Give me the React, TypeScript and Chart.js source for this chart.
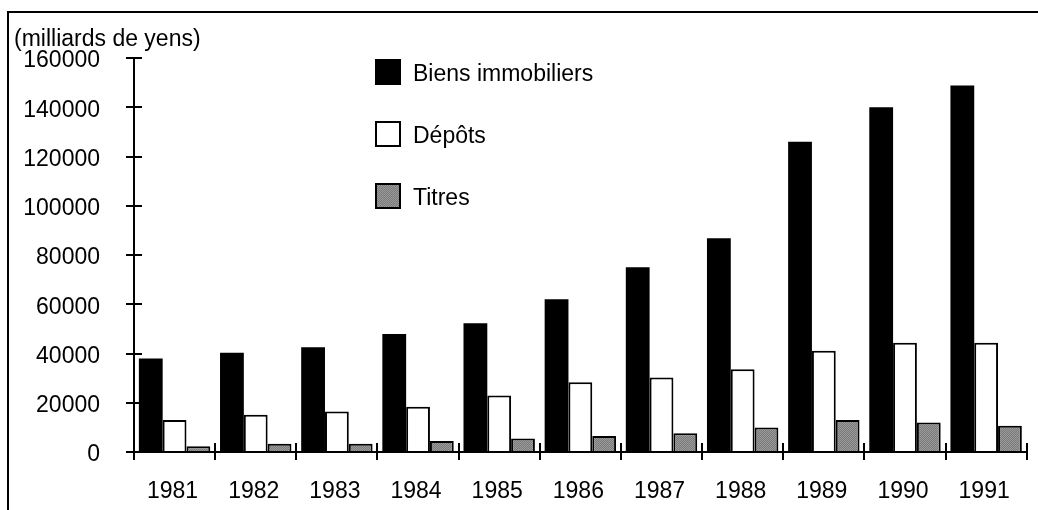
import { useEffect, useRef } from 'react';
import { Chart, registerables } from 'chart.js';

Chart.register(...registerables);

const years = ['1981', '1982', '1983', '1984', '1985', '1986', '1987', '1988', '1989', '1990', '1991'];
const biensImmobiliers = [38000, 40300, 42500, 47900, 52300, 62000, 75000, 86800, 126000, 140000, 148800];
const depots = [13000, 15100, 16400, 18400, 22900, 28300, 30300, 33600, 41100, 44400, 44400];
const titres = [2300, 3400, 3400, 4500, 5500, 6500, 7600, 9900, 13000, 12000, 10700];
const yTickValues = [0, 20000, 40000, 60000, 80000, 100000, 120000, 140000, 160000];
const seriesLabels = ['Biens immobiliers', 'Dépôts', 'Titres'];
const unitLabel = '(milliards de yens)';

const FONT = '"Liberation Sans", Arial, Helvetica, sans-serif';
const FONT_SIZE = 23;

function makeGrayPattern(): CanvasPattern | string {
  const c = document.createElement('canvas');
  c.width = 2;
  c.height = 2;
  const g = c.getContext('2d');
  if (!g) return '#888888';
  g.fillStyle = '#7a7a7a';
  g.fillRect(0, 0, 2, 2);
  g.fillStyle = '#9a9a9a';
  g.fillRect(0, 0, 1, 1);
  g.fillRect(1, 1, 1, 1);
  const p = g.createPattern(c, 'repeat');
  return p || '#888888';
}

const customPlugin = {
  id: 'customDraw',
  beforeDraw(chart: any) {
    const ctx = chart.ctx;
    ctx.save();
    ctx.fillStyle = '#ffffff';
    ctx.fillRect(0, 0, chart.width, chart.height);
    ctx.restore();
  },
  afterDatasetsDraw(chart: any) {
    const { ctx, chartArea: a, scales } = chart;
    const x = scales.x;
    const y = scales.y;
    ctx.save();
    ctx.strokeStyle = '#000000';
    ctx.lineWidth = 2;
    ctx.lineCap = 'butt';

    // outer frame (left & top visible)
    ctx.beginPath();
    ctx.moveTo(8, chart.height);
    ctx.lineTo(8, 12);
    ctx.lineTo(chart.width, 12);
    ctx.stroke();

    // axes
    ctx.beginPath();
    ctx.moveTo(a.left, a.top);
    ctx.lineTo(a.left, a.bottom);
    ctx.moveTo(a.left - 1, a.bottom);
    ctx.lineTo(a.right, a.bottom);
    ctx.stroke();

    // y crossing ticks
    ctx.beginPath();
    y.ticks.forEach((t: any) => {
      const py = Math.round(y.getPixelForValue(t.value));
      ctx.moveTo(a.left - 8, py);
      ctx.lineTo(a.left + 8, py);
    });
    ctx.stroke();

    // x crossing ticks at category boundaries
    const n = x.ticks.length;
    const w = (a.right - a.left) / n;
    ctx.beginPath();
    for (let i = 0; i <= n; i++) {
      const px = Math.round(a.left + i * w);
      ctx.moveTo(px, a.bottom - 9);
      ctx.lineTo(px, a.bottom + 8);
    }
    ctx.stroke();

    // unit label
    ctx.fillStyle = '#000000';
    ctx.font = `${FONT_SIZE}px ${FONT}`;
    ctx.textAlign = 'left';
    ctx.textBaseline = 'alphabetic';
    ctx.fillText(unitLabel, 14, 46);

    // legend
    chart.data.datasets.forEach((ds: any, i: number) => {
      const sx = 375;
      const sy = 59 + i * 62;
      const size = 26;
      ctx.fillStyle = ds.backgroundColor;
      ctx.fillRect(sx, sy, size, size);
      ctx.lineWidth = 2;
      ctx.strokeStyle = '#000000';
      ctx.strokeRect(sx + 1, sy + 1, size - 2, size - 2);
      ctx.fillStyle = '#000000';
      ctx.textBaseline = 'middle';
      ctx.fillText(ds.label, 413, sy + size / 2 + 3);
    });
    ctx.restore();
  },
};

export default function App() {
  const canvasRef = useRef<HTMLCanvasElement | null>(null);

  useEffect(() => {
    const canvas = canvasRef.current;
    if (!canvas) return;
    const gray = makeGrayPattern();
    const chart = new Chart(canvas, {
      type: 'bar',
      data: {
        labels: years,
        datasets: [
          {
            label: seriesLabels[0],
            data: biensImmobiliers,
            backgroundColor: '#000000',
            borderColor: '#000000',
            borderWidth: 0,
          },
          {
            label: seriesLabels[1],
            data: depots,
            backgroundColor: '#ffffff',
            borderColor: '#000000',
            borderWidth: 2,
          },
          {
            label: seriesLabels[2],
            data: titres,
            backgroundColor: gray as any,
            borderColor: '#000000',
            borderWidth: 2,
          },
        ],
      },
      options: {
        animation: false,
        responsive: false,
        maintainAspectRatio: false,
        layout: { padding: { left: 0, top: 58, right: 6, bottom: 0 } },
        datasets: {
          bar: { categoryPercentage: 0.88, barPercentage: 1.0 },
        },
        plugins: {
          legend: { display: false },
          tooltip: { enabled: false },
          title: { display: false },
        },
        scales: {
          x: {
            type: 'category',
            offset: true,
            grid: { display: false, drawTicks: false, tickLength: 0 },
            border: { display: false },
            ticks: {
              color: '#000000',
              font: { family: FONT, size: FONT_SIZE },
              padding: 26,
              labelOffset: -2,
              maxRotation: 0,
              autoSkip: false,
            },
            afterFit: (s: any) => {
              s.height = 58;
            },
          },
          y: {
            type: 'linear',
            min: 0,
            max: 160000,
            grid: { display: false, drawTicks: false, tickLength: 0 },
            border: { display: false },
            afterBuildTicks: (s: any) => {
              s.ticks = yTickValues.map((v) => ({ value: v }));
            },
            ticks: {
              color: '#000000',
              font: { family: FONT, size: FONT_SIZE },
              padding: 34,
              labelOffset: 3,
              callback: (v: any) => String(v),
            },
            afterFit: (s: any) => {
              s.width = 134;
            },
          },
        },
      },
      plugins: [customPlugin],
    });
    return () => {
      chart.destroy();
    };
  }, []);

  return (
    <div style={{ position: 'fixed', left: 0, top: 0, width: 1038, height: 510, background: '#fff' }}>
      <canvas ref={canvasRef} width={1038} height={510} style={{ display: 'block', width: 1038, height: 510 }} />
    </div>
  );
}
